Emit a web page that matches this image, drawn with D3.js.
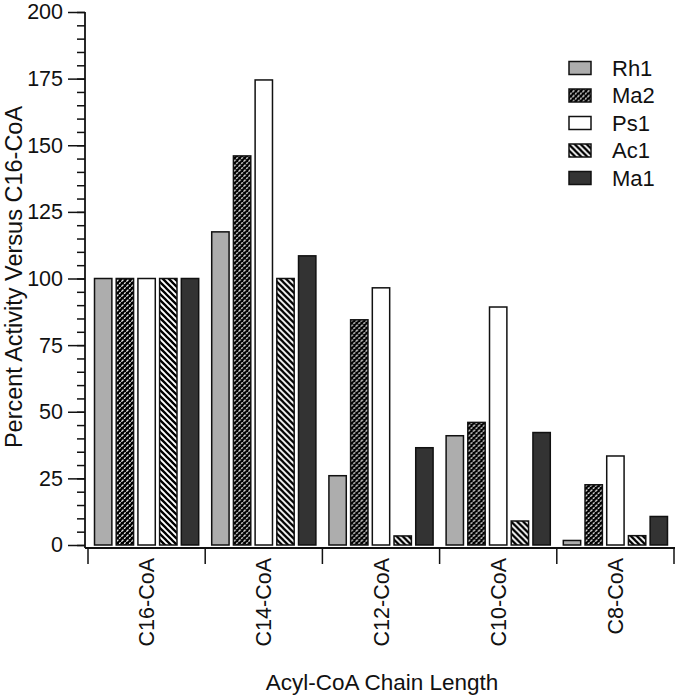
<!DOCTYPE html>
<html>
<head>
<meta charset="utf-8">
<script src="https://cdn.jsdelivr.net/npm/d3@7"></script>
<style>
  body { margin: 0; background: #fff; }
  text { font-family: "Liberation Sans", Arial, sans-serif; fill: #111; }
</style>
</head>
<body>
<div class="container"></div>
<script>
// chain lengths along the x axis
const categories = ['C16-CoA', 'C14-CoA', 'C12-CoA', 'C10-CoA', 'C8-CoA'];
const series = ['Rh1', 'Ma2', 'Ps1', 'Ac1', 'Ma1'];

// percent activity vs C16-CoA, one array per enzyme
const rh1 = [100, 117.5, 26, 41, 1.7];
const ma2 = [100, 146, 84.5, 46, 22.6];
const ps1 = [100, 174.5, 96.5, 89.3, 33.4];
const ac1 = [100, 100, 3.4, 9, 3.5];
const ma1 = [100, 108.5, 36.5, 42.2, 10.7];

const yMajor = [0, 25, 50, 75, 100, 125, 150, 175, 200];

const values = { Rh1: rh1, Ma2: ma2, Ps1: ps1, Ac1: ac1, Ma1: ma1 };

const width = 680, height = 700;

const svg = d3.select('.container')
    .append('svg')
    .attr('width', width)
    .attr('height', height);

// fill patterns for the hatched bars
const defs = svg.append('defs');

const pMa2 = defs.append('pattern')
    .attr('id', 'pat-ma2')
    .attr('patternUnits', 'userSpaceOnUse')
    .attr('width', 5).attr('height', 5);
pMa2.append('rect').attr('width', 5).attr('height', 5).attr('fill', '#000');
pMa2.append('path')
    .attr('d', 'M-1,6 L6,-1 M-1,1 L1,-1 M4,6 L6,4')
    .attr('stroke', '#fff')
    .attr('stroke-width', 1.3)
    .attr('stroke-dasharray', '2,1.1');

const pAc1 = defs.append('pattern')
    .attr('id', 'pat-ac1')
    .attr('patternUnits', 'userSpaceOnUse')
    .attr('width', 6).attr('height', 6);
pAc1.append('rect').attr('width', 6).attr('height', 6).attr('fill', '#fff');
pAc1.append('path')
    .attr('d', 'M-1,-1 L7,7 M-1,5 L1,7 M5,-1 L7,1')
    .attr('stroke', '#000')
    .attr('stroke-width', 2.3);

const fills = {
    Rh1: '#adadad',
    Ma2: 'url(#pat-ma2)',
    Ps1: '#ffffff',
    Ac1: 'url(#pat-ac1)',
    Ma1: '#333333'
};

const x0 = d3.scaleBand().domain(categories).range([88, 674]).padding(0);
const x1 = d3.scaleBand().domain(series).range([0, x0.bandwidth()])
    .paddingInner(0.2).paddingOuter(0.3);
const y = d3.scaleLinear().domain([0, 200]).range([545, 12]);

// bars
const groups = svg.append('g')
    .selectAll('g')
    .data(categories)
    .enter().append('g')
    .attr('transform', d => `translate(${x0(d)},0)`);

groups.selectAll('rect')
    .data((c, i) => series.map(s => ({ key: s, value: values[s][i] })))
    .enter().append('rect')
    .attr('x', d => x1(d.key))
    .attr('y', d => y(d.value))
    .attr('width', x1.bandwidth())
    .attr('height', d => y(0) - y(d.value))
    .attr('fill', d => fills[d.key])
    .attr('stroke', '#111')
    .attr('stroke-width', 1.5);

// y axis: minor ticks then major ticks with labels
const yMinor = d3.range(0, 201, 5);
svg.append('g')
    .attr('transform', 'translate(85,0)')
    .call(d3.axisLeft(y).tickValues(yMinor).tickSize(8).tickFormat(''))
    .call(g => g.select('.domain').remove())
    .selectAll('line').attr('stroke', '#111').attr('stroke-width', 1.5);

const yAxis = svg.append('g')
    .attr('transform', 'translate(85,0)')
    .call(d3.axisLeft(y).tickValues(yMajor).tickSize(17).tickSizeOuter(0).tickPadding(5));
yAxis.select('.domain').remove();
yAxis.selectAll('line').attr('stroke', '#111').attr('stroke-width', 1.5);
yAxis.selectAll('text').attr('font-size', 21.5).attr('fill', '#111')
    .style('font-family', '"Liberation Sans", Arial, sans-serif');

svg.append('line')
    .attr('x1', 85).attr('x2', 85)
    .attr('y1', y(200)).attr('y2', 548)
    .attr('stroke', '#111').attr('stroke-width', 1.8);

// x axis with ticks at the group boundaries
const xAxisY = 548;
svg.append('line')
    .attr('x1', 85).attr('x2', x0.range()[1] + 1)
    .attr('y1', xAxisY).attr('y2', xAxisY)
    .attr('stroke', '#111').attr('stroke-width', 1.8);

const bounds = categories.map(c => x0(c)).concat([x0.range()[1]]);
svg.append('g')
    .selectAll('line')
    .data(bounds)
    .enter().append('line')
    .attr('x1', d => d).attr('x2', d => d)
    .attr('y1', xAxisY).attr('y2', xAxisY + 16)
    .attr('stroke', '#111').attr('stroke-width', 1.5);

svg.append('g')
    .selectAll('text')
    .data(categories)
    .enter().append('text')
    .attr('transform', d => `translate(${x0(d) + x0.bandwidth() / 2},558) rotate(-90)`)
    .attr('text-anchor', 'end')
    .attr('dy', '0.35em')
    .attr('font-size', 21.5)
    .text(d => d);

// axis titles
svg.append('text')
    .attr('x', 382).attr('y', 690)
    .attr('text-anchor', 'middle')
    .attr('font-size', 22.5)
    .text('Acyl-CoA Chain Length');

svg.append('text')
    .attr('transform', 'translate(22,277) rotate(-90)')
    .attr('text-anchor', 'middle')
    .attr('font-size', 23.5)
    .text('Percent Activity Versus C16-CoA');

// legend
const legend = svg.append('g')
    .selectAll('g')
    .data(series)
    .enter().append('g')
    .attr('transform', (d, i) => `translate(569,${68 + i * 27.5})`);

legend.append('rect')
    .attr('x', 0).attr('y', -6.5)
    .attr('width', 22).attr('height', 13)
    .attr('fill', d => fills[d])
    .attr('stroke', '#111')
    .attr('stroke-width', 1.5);

legend.append('text')
    .attr('x', 43)
    .attr('dy', '0.35em')
    .attr('font-size', 22)
    .text(d => d);
</script>
</body>
</html>
